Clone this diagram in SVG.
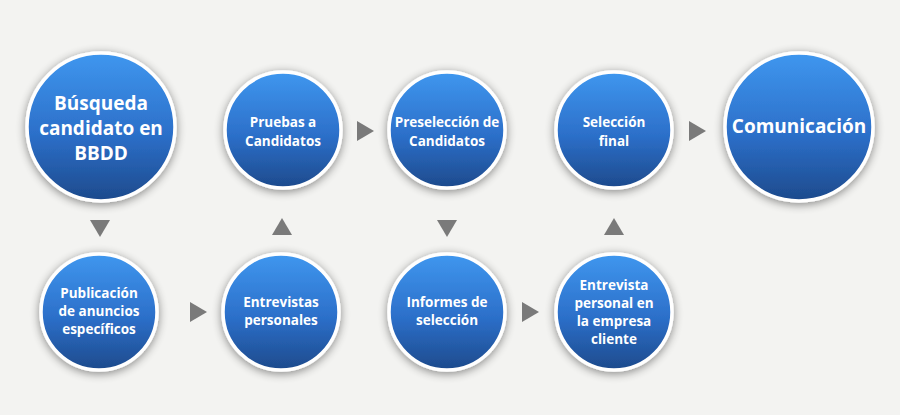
<svg xmlns="http://www.w3.org/2000/svg" width="900" height="415" viewBox="0 0 900 415">
<defs>
<linearGradient id="g" x1="0" y1="0" x2="0" y2="1">
<stop offset="0" stop-color="#3f97ef"/>
<stop offset="0.55" stop-color="#2c6fc9"/>
<stop offset="1" stop-color="#1d4a8c"/>
</linearGradient>
<filter id="sh" x="-30%" y="-30%" width="160%" height="160%">
<feGaussianBlur in="SourceAlpha" stdDeviation="5"/>
<feOffset dx="0" dy="2"/>
<feComponentTransfer><feFuncA type="linear" slope="0.45"/></feComponentTransfer>
<feMerge><feMergeNode/><feMergeNode in="SourceGraphic"/></feMerge>
</filter>
<style>
.c{fill:url(#g);stroke:#fff;stroke-width:3.5;filter:url(#sh)}
.t{fill:#fff;font-family:"Open Sans","DejaVu Sans",sans-serif;font-weight:bold;text-anchor:middle}
.s{font-size:13.5px}
.b{font-size:19px}
.a{fill:#7a7a7a}
</style>
</defs>
<rect width="900" height="415" fill="#f3f3f1"/>
<g id="n1"><circle class="c" cx="101" cy="127" r="74"/><text class="t b" x="101" y="110">Búsqueda</text><text class="t b" x="101" y="135">candidato en</text><text class="t b" x="101" y="160">BBDD</text></g>
<g id="n2"><circle class="c" cx="99" cy="312" r="58"/><text class="t s" x="99" y="298">Publicación</text><text class="t s" x="99" y="316">de anuncios</text><text class="t s" x="99" y="334">específicos</text></g>
<g id="n3"><circle class="c" cx="281" cy="312" r="58"/><text class="t s" x="281" y="307">Entrevistas</text><text class="t s" x="281" y="325">personales</text></g>
<g id="n4"><circle class="c" cx="283" cy="130" r="58"/><text class="t s" x="283" y="127">Pruebas a</text><text class="t s" x="283" y="146">Candidatos</text></g>
<g id="n5"><circle class="c" cx="447" cy="130" r="58"/><text class="t s" x="447" y="127">Preselección de</text><text class="t s" x="447" y="146">Candidatos</text></g>
<g id="n6"><circle class="c" cx="447" cy="312" r="58"/><text class="t s" x="447" y="307">Informes de</text><text class="t s" x="447" y="325">selección</text></g>
<g id="n7"><circle class="c" cx="614" cy="312" r="58"/><text class="t s" x="614" y="290">Entrevista</text><text class="t s" x="614" y="308">personal en</text><text class="t s" x="614" y="326">la empresa</text><text class="t s" x="614" y="344">cliente</text></g>
<g id="n8"><circle class="c" cx="614" cy="130" r="58"/><text class="t s" x="614" y="127">Selección</text><text class="t s" x="614" y="146">final</text></g>
<g id="n9"><circle class="c" cx="799" cy="127" r="74"/><text class="t b" x="799" y="133">Comunicación</text></g>
<g id="connectors">
<polygon class="a" points="90,220 110,220 100,237"/>
<polygon class="a" points="190,302 190,322 207,312"/>
<polygon class="a" points="272,235 292,235 282,218"/>
<polygon class="a" points="357,121 357,141 374,131"/>
<polygon class="a" points="437,220 457,220 447,237"/>
<polygon class="a" points="522,302 522,322 539,312"/>
<polygon class="a" points="604,235 624,235 614,218"/>
<polygon class="a" points="689,121 689,141 706,131"/>
</g>
</svg>
